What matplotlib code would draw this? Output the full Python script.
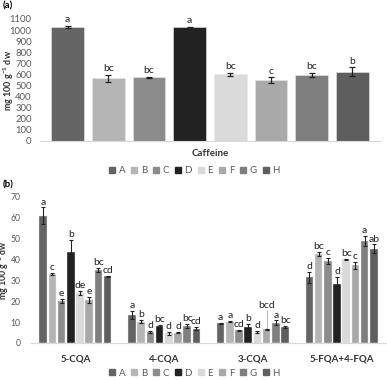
import matplotlib
matplotlib.use("Agg")
import matplotlib.pyplot as plt
import numpy as np
from matplotlib.lines import Line2D

plt.rcParams["font.family"] = ["Lato", "DejaVu Sans"]
plt.rcParams["mathtext.fontset"] = "custom"
plt.rcParams["mathtext.rm"] = "Lato:bold"
plt.rcParams["mathtext.it"] = "Lato:bold"
plt.rcParams["mathtext.bf"] = "Lato:bold"

treatments = ["A", "B", "C", "D", "E", "F", "G", "H"]
colors = ["#646464", "#b5b5b5", "#8c8c8c", "#222222", "#dadada", "#a9a9a9", "#7f7f7f", "#5e5e5e"]

caffeine = [1030, 565, 575, 1025, 600, 550, 595, 625]
caffeine_err = [10, 30, 6, 6, 12, 25, 20, 40]
caffeine_lbl = ["a", "bc", "bc", "a", "bc", "c", "bc", "b"]

compounds = ["5-CQA", "4-CQA", "3-CQA", "5-FQA+4-FQA"]
cqa5 = [61, 33.2, 20.3, 43.5, 23.8, 20.5, 35.0, 32.0]
cqa5_err = [4.0, 0.6, 1.0, 6.0, 1.0, 1.5, 1.0, 0.3]
cqa5_lbl = ["a", "c", "e", "b", "de", "e", "bc", "cd"]
cqa4 = [13.5, 10.3, 5.2, 8.0, 4.6, 4.9, 8.0, 6.8]
cqa4_err = [2.0, 0.7, 0.5, 0.7, 0.8, 0.3, 1.0, 0.8]
cqa4_lbl = ["a", "b", "d", "bc", "d", "d", "bc", "cd"]
cqa3 = [9.5, 10.2, 6.0, 7.5, 5.3, 6.6, 9.8, 7.5]
cqa3_err = [0.3, 0.3, 0.3, 1.5, 0.5, 0.3, 1.0, 0.5]
cqa3_lbl = ["a", "a", "cd", "b", "d", "bcd", "a", "bc"]
fqa = [31.5, 42.5, 39.4, 28.5, 40.2, 37.2, 49.0, 45.3]
fqa_err = [2.5, 1.0, 1.5, 3.0, 0.3, 1.5, 2.5, 2.0]
fqa_lbl = ["d", "bc", "c", "d", "bc", "c", "a", "ab"]

tick_color = "#595959"
lab_color = "#222222"
fig = plt.figure(figsize=(3.87, 3.80), dpi=100)

ylabel_txt = "mg 100 g$^{-1}$ dw"

# ---- panel (a)
ax1 = fig.add_axes([40/387, 1-141/380, 340/387, 122/380])
x = np.arange(len(treatments))
ax1.bar(x, caffeine, width=0.8, color=colors, edgecolor="#e8e8e8", linewidth=0.4,
        yerr=caffeine_err, error_kw=dict(ecolor="#222222", elinewidth=0.9, capsize=2, capthick=0.9))
for xi, v, e, l in zip(x, caffeine, caffeine_err, caffeine_lbl):
    ax1.text(xi, v + e + 15, l, ha="center", va="bottom", fontsize=7.5, color=lab_color)
ax1.set_ylim(0, 1100)
ax1.set_yticks(range(0, 1101, 100))
ax1.set_xlim(-0.68, 7.68)
ax1.set_xticks([])
ax1.set_xlabel("Caffeine", fontsize=7, fontweight="bold", color="#333333", labelpad=6)
ax1.set_ylabel(ylabel_txt, fontsize=6.5, fontweight="bold", color="#333333")
ax1.yaxis.set_label_coords(-0.072, 0.5)
for s in ["top", "right", "left"]:
    ax1.spines[s].set_visible(False)
ax1.spines["bottom"].set_color("#d9d9d9")
ax1.tick_params(axis="y", length=0, labelsize=6.8, labelcolor=tick_color, pad=6)

handles = [Line2D([], [], marker="s", linestyle="", markersize=4.0, color=c) for c in colors]
legend_kw = dict(loc="center", ncol=8, frameon=False, fontsize=7, labelcolor=tick_color,
                 handletextpad=0.25, columnspacing=0.55, handlelength=0.8, borderpad=0)
fig.legend(handles, treatments, bbox_to_anchor=(194/387, 1-171/380), **legend_kw)
fig.text(3/387, 1-6/380, "(a)", fontsize=7, fontweight="bold", va="center", ha="left")

# ---- panel (b)
ax2 = fig.add_axes([31/387, 1-343/380, 355/387, 146/380])
series = [cqa5, cqa4, cqa3, fqa]
errs = [cqa5_err, cqa4_err, cqa3_err, fqa_err]
lbls = [cqa5_lbl, cqa4_lbl, cqa3_lbl, fqa_lbl]
gx = np.arange(len(compounds))
step = 0.104
bw = 0.085
for i, t in enumerate(treatments):
    vals = [s[i] for s in series]
    es = [e[i] for e in errs]
    pos = gx + (i - 3.5) * step
    ax2.bar(pos, vals, width=bw, color=colors[i], edgecolor="#e8e8e8", linewidth=0.3,
            yerr=es, error_kw=dict(ecolor="#222222", elinewidth=0.8, capsize=1.5, capthick=0.8))
    for g in range(len(compounds)):
        top = vals[g] + es[g]
        lab = lbls[g][i]
        if g == 2 and lab == "bcd":
            ax2.plot([pos[g], pos[g]], [top + 0.3, 15.8], color="#999999", lw=0.5)
            ax2.text(pos[g], 16.0, lab, ha="center", va="bottom", fontsize=7.5, color=lab_color)
        else:
            ax2.text(pos[g], top + 0.4, lab, ha="center", va="bottom", fontsize=7.5, color=lab_color)
ax2.set_ylim(0, 70)
ax2.set_yticks(range(0, 71, 10))
ax2.set_xlim(-0.5, 3.5)
ax2.set_xticks(gx)
ax2.set_xticklabels(compounds, fontsize=7, fontweight="bold", color="#333333")
ax2.set_ylabel(ylabel_txt, fontsize=6.3, fontweight="bold", color="#333333")
ax2.yaxis.set_label_coords(-0.057, 0.5)
for s in ["top", "right", "left"]:
    ax2.spines[s].set_visible(False)
ax2.spines["bottom"].set_color("#d9d9d9")
ax2.tick_params(axis="y", length=0, labelsize=6.2, labelcolor=tick_color, pad=7.5)
ax2.tick_params(axis="x", length=0, pad=8)

fig.legend(handles, treatments, bbox_to_anchor=(194/387, 1-373/380), **legend_kw)
fig.text(3/387, 1-185/380, "(b)", fontsize=7, fontweight="bold", va="center", ha="left")

fig.savefig("out.png", dpi=100)
